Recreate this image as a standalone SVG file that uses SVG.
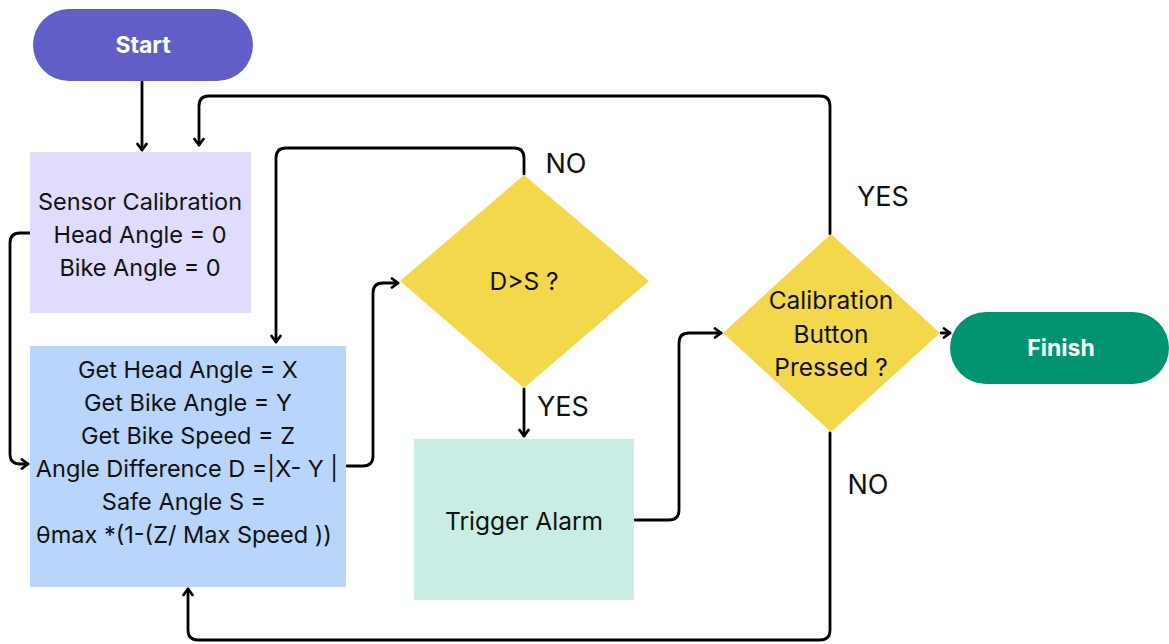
<svg xmlns="http://www.w3.org/2000/svg" width="1169" height="644" viewBox="0 0 1169 644">
<defs>
<marker id="arr" viewBox="0 0 12 12" refX="10" refY="6" markerWidth="12" markerHeight="12" markerUnits="userSpaceOnUse" orient="auto">
<path d="M4,1.5 L10,6 L4,10.5" fill="none" stroke="#000" stroke-width="2.8" stroke-linecap="round" stroke-linejoin="round"/>
</marker>
<style>
.t{font-family:Inter,"Noto Sans","Liberation Sans",sans-serif;font-size:23.5px;fill:#111;text-anchor:middle;dominant-baseline:central}
.m{font-size:24.5px}
.l{font-size:27px}
.tb{font-family:Inter,"Noto Sans","Liberation Sans",sans-serif;font-size:23px;font-weight:bold;fill:#fff;text-anchor:middle;dominant-baseline:central}
.c{fill:none;stroke:#000;stroke-width:2.8;stroke-linecap:round;stroke-linejoin:round}
</style>
</defs>
<g id="connectors">
<path class="c" d="M142,82 L142,150" marker-end="url(#arr)"/>
<path class="c" d="M830,234 L830,106 Q830,96 820,96 L209,96 Q199,96 199,106 L199,145" marker-end="url(#arr)"/>
<path class="c" d="M30,233 L20,233 Q10,233 10,243 L10,454 Q10,464 20,464 L28,464" marker-end="url(#arr)"/>
<path class="c" d="M347,466 L363,466 Q373,466 373,456 L373,293 Q373,283 383,283 L398,283" marker-end="url(#arr)"/>
<path class="c" d="M524,174 L524,158 Q524,148 514,148 L286,148 Q276,148 276,158 L276,342" marker-end="url(#arr)"/>
<path class="c" d="M524,389 L524,436" marker-end="url(#arr)"/>
<path class="c" d="M635,520 L669,520 Q679,520 679,510 L679,343 Q679,333 689,333 L721,333" marker-end="url(#arr)"/>
<path class="c" d="M941,333 L950,333" marker-end="url(#arr)"/>
<path class="c" d="M830,433 L830,630 Q830,640 820,640 L198,640 Q188,640 188,630 L188,589" marker-end="url(#arr)"/>
</g>
<g id="start">
<rect x="33" y="9" width="220" height="72" rx="36" fill="#625ec8"/>
<text class="tb" x="143" y="45">Start</text>
</g>
<g id="sensor-calibration">
<rect x="30" y="152" width="221" height="161" fill="#e0dcfd"/>
<text class="t" x="140" y="201">Sensor Calibration</text>
<text class="t" x="140" y="234">Head Angle = 0</text>
<text class="t" x="140" y="267">Bike Angle = 0</text>
</g>
<g id="compute">
<rect x="30" y="346" width="316" height="241" fill="#b9d5fb"/>
<text class="t" x="188" y="369">Get Head Angle = X</text>
<text class="t" x="188" y="402">Get Bike Angle = Y</text>
<text class="t" x="188" y="435">Get Bike Speed = Z</text>
<text class="t" x="187" y="468">Angle Difference D =|X- Y |</text>
<text class="t" x="184" y="501">Safe Angle S =</text>
<text class="t" x="184" y="534">θmax *(1-(Z/ Max Speed ))</text>
</g>
<g id="decision-ds">
<polygon points="400,281 524,175 649,281 524,388" fill="#f3d84c"/>
<text class="t m" x="524" y="281">D&gt;S ?</text>
</g>
<g id="trigger-alarm">
<rect x="414" y="439" width="220" height="161" fill="#c9ede5"/>
<text class="t m" x="524" y="521">Trigger Alarm</text>
</g>
<g id="decision-calibration">
<polygon points="723,333 831,234 940,333 831,432" fill="#f3d84c"/>
<text class="t m" x="831" y="300">Calibration</text>
<text class="t m" x="831" y="334">Button</text>
<text class="t m" x="831" y="367">Pressed ?</text>
</g>
<g id="finish">
<rect x="950" y="312" width="219" height="72" rx="36" fill="#029470"/>
<text class="tb" x="1061" y="348">Finish</text>
</g>
<g id="labels">
<text class="t l" x="566" y="163">NO</text>
<text class="t l" x="563" y="406">YES</text>
<text class="t l" x="883" y="196">YES</text>
<text class="t l" x="868" y="484">NO</text>
</g>
</svg>
